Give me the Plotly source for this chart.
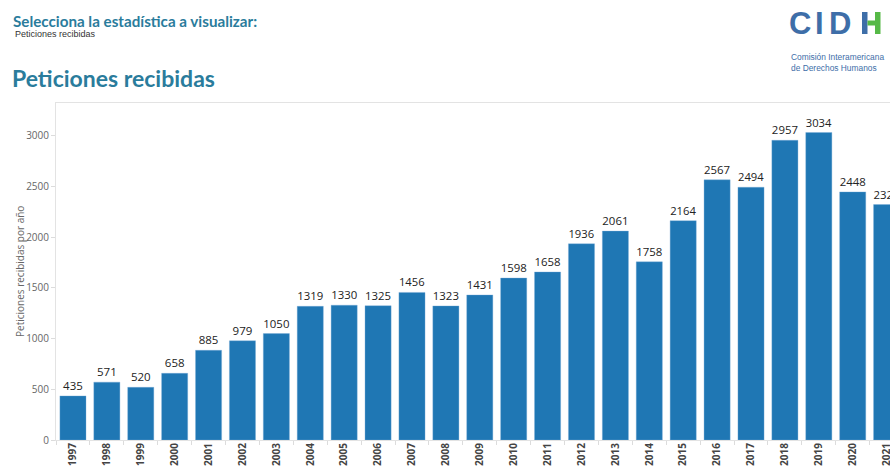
import plotly.graph_objects as go

# Peticiones recibidas por año (CIDH)
years = [str(y) for y in range(1997, 2022)]
peticiones = [435, 571, 520, 658, 885, 979, 1050, 1319, 1330, 1325, 1456, 1323,
              1431, 1598, 1658, 1936, 2061, 1758, 2164, 2567, 2494, 2957, 3034,
              2448, 2323]
y_ticks = [0, 500, 1000, 1500, 2000, 2500, 3000]

W, H = 890, 466
ML, MR, MT, MB = 56, 0, 103, 26
PW, PH = W - ML - MR, H - MT - MB

TEAL = "#2a7c9c"
BLUE = "#1f77b4"
LOGO_BLUE = "#3e6ea8"
LOGO_GREEN = "#56b947"


def px(x):
    return (x - ML) / PW


def py(y):
    return 1 - (y - MT) / PH


fig = go.Figure(go.Bar(
    x=years,
    y=peticiones,
    marker=dict(color=BLUE, line=dict(color="rgba(120,170,215,0.6)", width=0.6)),
    text=[str(v) for v in peticiones],
    textposition="outside",
    textfont=dict(family="Open Sans, sans-serif", size=11.5, color="#222"),
    cliponaxis=True,
    hoverinfo="x+y",
))

logo_font = dict(family="Liberation Sans, Arial, sans-serif", size=31, color=LOGO_BLUE,
                 weight="bold")
logo_small = dict(family="Liberation Sans, Arial, sans-serif", size=8.4, color=LOGO_BLUE)
annotations = [
    dict(text="<b>Selecciona la estadística a visualizar:</b>", x=px(11), y=py(21),
         font=dict(family="Lato, sans-serif", size=15.2, color=TEAL)),
    dict(text="Peticiones recibidas", x=px(13), y=py(34),
         font=dict(family="Liberation Sans, Arial, sans-serif", size=9, color="#333")),
    dict(text="<b>Peticiones recibidas</b>", x=px(10), y=py(78),
         font=dict(family="Lato, sans-serif", size=23, color=TEAL)),
    # logo letters
    dict(text="C", x=px(787), y=py(23.5), font=logo_font),
    dict(text="I", x=px(813), y=py(23.5), font=logo_font),
    dict(text="D", x=px(827), y=py(23.5), font=logo_font),
    dict(text="Comisión Interamericana", x=px(789), y=py(57), font=logo_small),
    dict(text="de Derechos Humanos", x=px(789), y=py(67.5), font=logo_small),
]
for a in annotations:
    a.update(xref="paper", yref="paper", xanchor="left", yanchor="middle",
             showarrow=False)

# y-axis title
annotations.append(dict(
    text="Peticiones recibidas por año", textangle=-90,
    x=px(19.5), y=0.5, xref="paper", yref="paper",
    xanchor="center", yanchor="middle", showarrow=False,
    font=dict(family="Open Sans, sans-serif", size=10, color="#666"),
))

shapes = [
    # H of the logo
    dict(x0=px(862), x1=px(867.5), y0=py(12), y1=py(34), fillcolor=LOGO_BLUE),
    dict(x0=px(867.5), x1=px(875), y0=py(20.5), y1=py(25.5), fillcolor=LOGO_GREEN),
    dict(x0=px(875), x1=px(880.5), y0=py(12), y1=py(34), fillcolor=LOGO_GREEN),
]
for s in shapes:
    s.update(type="rect", xref="paper", yref="paper", line=dict(width=0), layer="above")

fig.update_layout(
    width=W, height=H,
    margin=dict(l=ML, r=MR, t=MT, b=MB, pad=0),
    paper_bgcolor="white",
    plot_bgcolor="white",
    bargap=0.23,
    showlegend=False,
    annotations=annotations,
    shapes=shapes,
    font=dict(family="Open Sans, sans-serif"),
)
fig.update_xaxes(
    type="category",
    range=[-0.5, 24.1],
    showgrid=False,
    showline=True, linecolor="#e3e3e3", linewidth=1, mirror=True,
    ticks="outside", ticklen=4, tickcolor="#dcdcdc",
    tickson="boundaries",
    tickangle=-90,
    ticklabelstandoff=-2,
    tickfont=dict(family="Open Sans, sans-serif", size=10, color="#444", weight="bold"),
    automargin=False,
    fixedrange=True,
)
fig.update_yaxes(
    range=[0, 3325],
    tickvals=y_ticks,
    showgrid=False, zeroline=False,
    showline=True, linecolor="#e3e3e3", linewidth=1,
    ticks="outside", ticklen=4, tickcolor="#dcdcdc",
    tickfont=dict(family="Open Sans, sans-serif", size=10, color="#666"),
    automargin=False,
    fixedrange=True,
)

fig.write_html("out.html", config={"displayModeBar": False})
